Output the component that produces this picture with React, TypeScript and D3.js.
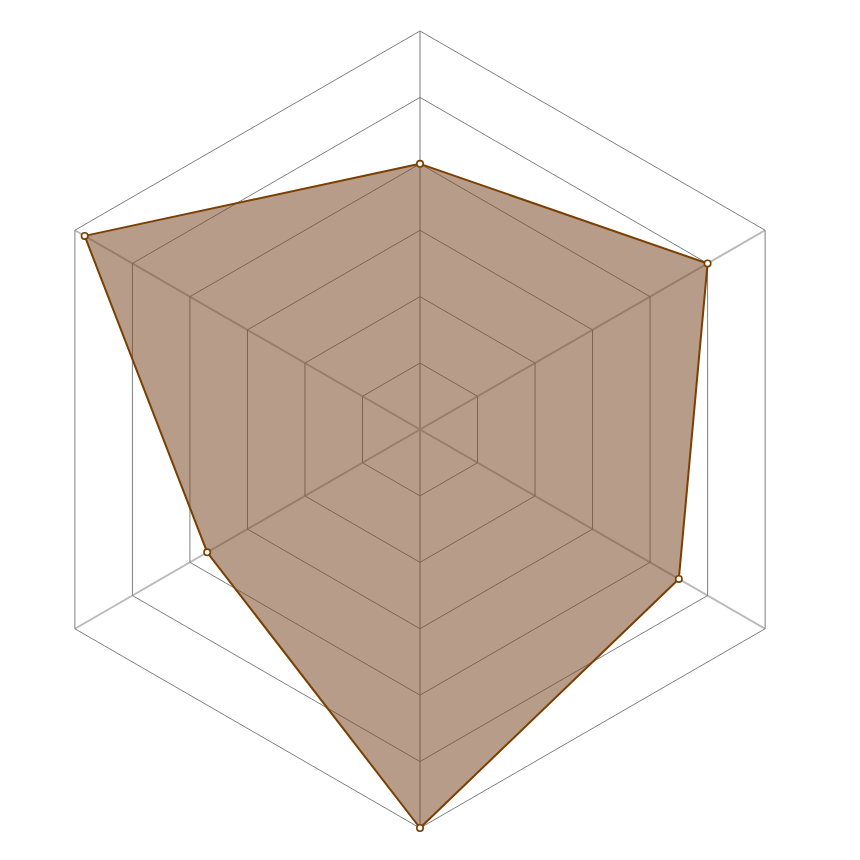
import * as d3 from 'd3'
import { useEffect, useRef } from 'react'

// axes go clockwise from the top
const axes = ['A', 'B', 'C', 'D', 'E', 'F']
const values = [4, 5, 4.5, 6, 3.7, 5.83]
const levels = [1, 2, 3, 4, 5, 6]
const maxValue = 6

const App = () => {
  const svgRef = useRef<SVGSVGElement>(null)

  useEffect(() => {
    const svg = d3.select(svgRef.current)
    svg.selectAll('*').remove()

    const cx = 412
    const cy = 421.5
    const radius = 398.5

    const r = d3.scaleLinear().domain([0, maxValue]).range([0, radius])
    const angle = (i: number) => (i * 2 * Math.PI) / axes.length

    const g = svg.append('g').attr('transform', `translate(${cx},${cy})`)

    // axis spokes
    g.append('g')
      .selectAll('line')
      .data(axes)
      .enter()
      .append('line')
      .attr('x1', 0)
      .attr('y1', 0)
      .attr('x2', (_, i) => r(maxValue) * Math.sin(angle(i)))
      .attr('y2', (_, i) => -r(maxValue) * Math.cos(angle(i)))
      .attr('stroke', '#bbbbbb')
      .attr('stroke-width', 2)

    // hexagon rings
    const ring = d3
      .lineRadial<string>()
      .angle((_, i) => angle(i))
      .curve(d3.curveLinearClosed)

    g.append('g')
      .selectAll('path')
      .data(levels)
      .enter()
      .append('path')
      .attr('d', (lv) => ring.radius(r(lv))(axes))
      .attr('fill', 'none')
      .attr('stroke', '#7f7f7f')
      .attr('stroke-width', 1)

    // data area
    const area = d3
      .lineRadial<number>()
      .angle((_, i) => angle(i))
      .radius((d) => r(d))
      .curve(d3.curveLinearClosed)

    g.append('path')
      .datum(values)
      .attr('d', area)
      .attr('fill', '#7b4a2a')
      .attr('fill-opacity', 0.55)
      .attr('stroke', '#7b3f00')
      .attr('stroke-width', 2)
      .attr('stroke-linejoin', 'round')

    // points
    g.append('g')
      .selectAll('circle')
      .data(values)
      .enter()
      .append('circle')
      .attr('cx', (d, i) => r(d) * Math.sin(angle(i)))
      .attr('cy', (d, i) => -r(d) * Math.cos(angle(i)))
      .attr('r', 3.2)
      .attr('fill', '#ffffff')
      .attr('stroke', '#7b3f00')
      .attr('stroke-width', 1.6)
  }, [])

  return <svg ref={svgRef} width={844} height={844} style={{ display: 'block' }} />
}

export default App
